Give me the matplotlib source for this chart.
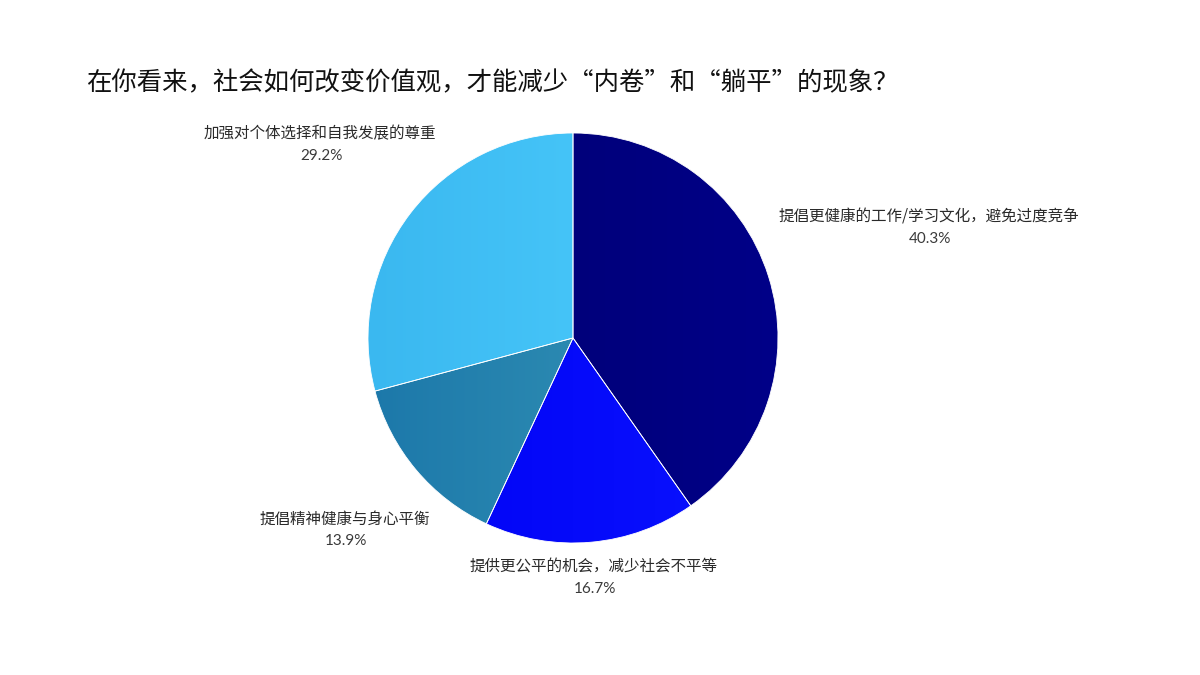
import numpy as np
import matplotlib
matplotlib.use('Agg')
import matplotlib.pyplot as plt
from matplotlib.colors import LinearSegmentedColormap

plt.rcParams['font.family'] = ['Noto Sans CJK SC', 'DejaVu Sans']

title = '在你看来，社会如何改变价值观，才能减少“内卷”和“躺平”的现象？'
labels = ['提倡更健康的工作/学习文化，避免过度竞争',
          '提供更公平的机会，减少社会不平等',
          '提倡精神健康与身心平衡',
          '加强对个体选择和自我发展的尊重']
values = [40.3, 16.7, 13.9, 29.2]
# left / right shade of each slice's gradient
shades = [('#00006e', '#000088'),
          ('#0000f5', '#0a14ff'),
          ('#1c78aa', '#3a9ab8'),
          ('#3ab8f0', '#50d0ff')]
# label anchor (pixel coords of the text centre, top-down) for each slice
label_pos = [(929, 217), (594, 567), (345, 519), (320, 134)]


def main():
    fig = plt.figure(figsize=(12, 6.75), dpi=100)
    ax = fig.add_axes([0, 0, 1, 1])

    cx, cy, r = 573, 675 - 338, 205
    wedges, _ = ax.pie(values, startangle=90, counterclock=False,
                       center=(cx, cy), radius=r, frame=True,
                       colors=[s[1] for s in shades],
                       wedgeprops=dict(linewidth=0.6, edgecolor='white'))
    ax.set_xlim(0, 1200)
    ax.set_ylim(0, 675)
    ax.set_aspect('equal')
    ax.axis('off')

    grad = np.linspace(0, 1, 256).reshape(1, -1)
    for w, (c0, c1) in zip(wedges, shades):
        cmap = LinearSegmentedColormap.from_list('g', [c0, c1])
        im = ax.imshow(grad, cmap=cmap, aspect='auto',
                       extent=(cx - r, cx + r, cy - r, cy + r), zorder=2)
        im.set_clip_path(w)
        w.set_zorder(3)
        w.set_facecolor('none')

    for lab, val, (x, y) in zip(labels, values, label_pos):
        ax.text(x, 675 - y, lab, ha='center', va='center',
                fontsize=11.2, color='#2a2a2a')
        ax.text(x + 1, 675 - y - 22, f'{val}%', ha='center', va='center',
                fontsize=11, color='#3a3a3a', family=['Lato', 'DejaVu Sans'])

    ax.text(86, 675 - 83, title, ha='left', va='center',
            fontsize=18.3, color='#111111')

    plt.savefig('out.png', dpi=100, facecolor='white')


if __name__ == '__main__':
    main()
